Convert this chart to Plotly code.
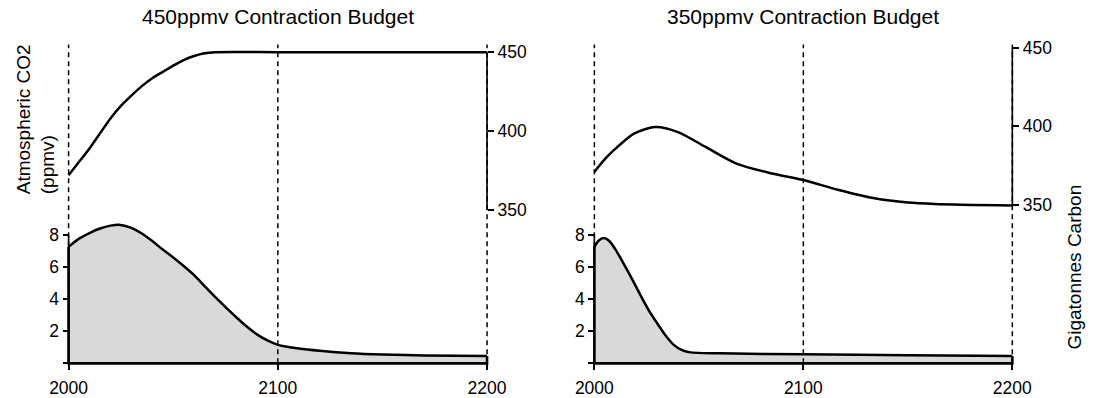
import plotly.graph_objects as go

# ---------------- data ----------------
years_co2_450 = [2000, 2005, 2010, 2015, 2020, 2025, 2030, 2035, 2040, 2045, 2050, 2055, 2060, 2065, 2070, 2100, 2150, 2200]
co2_450 = [372, 380.5, 389, 398.5, 408, 416, 422.5, 428.5, 433.5, 437.5, 441.5, 445, 447.6, 449.3, 450, 450, 450, 450]

years_em_450 = [2000, 2005, 2010, 2015, 2020, 2024, 2030, 2035, 2040, 2045, 2050, 2055, 2060, 2065, 2070, 2075, 2080, 2085, 2090, 2095, 2100, 2110, 2120, 2135, 2150, 2170, 2200]
em_450 = [7.24, 7.75, 8.1, 8.38, 8.56, 8.62, 8.42, 8.07, 7.6, 7.07, 6.58, 6.05, 5.48, 4.8, 4.13, 3.5, 2.88, 2.3, 1.8, 1.42, 1.15, 0.92, 0.78, 0.63, 0.55, 0.49, 0.45]

years_co2_350 = [2000, 2006, 2012, 2019, 2029, 2040, 2053, 2068, 2085, 2100, 2117, 2134, 2150, 2163, 2200]
co2_350 = [371, 380.5, 388, 395.3, 399.5, 396.3, 387, 376.3, 370, 365.8, 359.5, 354.2, 351.5, 350.6, 349.6]

years_em_350 = [2000, 2002, 2004.5, 2007, 2010, 2014, 2018, 2022, 2026, 2030, 2034, 2038, 2042, 2046, 2060, 2100, 2150, 2200]
em_350 = [7.24, 7.62, 7.79, 7.62, 7.1, 6.2, 5.25, 4.25, 3.3, 2.5, 1.75, 1.15, 0.82, 0.68, 0.62, 0.56, 0.5, 0.46]

x_ticks = [2000, 2100, 2200]
em_ticks = [0, 2, 4, 6, 8]
em_ticktext = ["", "2", "4", "6", "8"]
co2_ticks = [350, 400, 450]

titles = ["450ppmv Contraction Budget", "350ppmv Contraction Budget"]
left_label = "Atmospheric CO2<br>(ppmv)"
right_label = "Gigatonnes Carbon"

# ---------------- layout geometry (pixels) ----------------
W, H = 1099, 398
FONT = "Liberation Sans, Arial, Helvetica, sans-serif"
TICK_FS = 17.5
TITLE_FS = 21
LABEL_FS = 19
PLOT_TOP, PLOT_BOT = 38, 372
BASE_PX = 365           # pixel row of emissions 0
EM_PX = 16.25           # px per GtC
panels = [
    dict(x0=57, x1=486, co2_450_px=50.7, co2_350_px=210),
    dict(x0=596, x1=1024.5, co2_450_px=46, co2_350_px=205),
]
PAD = 6

def fx(px):
    return px / W

def fy(py):
    return (H - py) / H

fig = go.Figure()
layout = dict(
    width=W, height=H, margin=dict(l=0, r=0, t=0, b=0),
    paper_bgcolor="white", plot_bgcolor="white", showlegend=False,
    font=dict(family=FONT, size=TICK_FS, color="black"),
)
shapes = []
annotations = []
ydom = [fy(PLOT_BOT), fy(PLOT_TOP)]
em_range = [(BASE_PX - PLOT_BOT) / EM_PX, (BASE_PX - PLOT_TOP) / EM_PX]

series = [(years_co2_450, co2_450, years_em_450, em_450),
          (years_co2_350, co2_350, years_em_350, em_350)]

for i, p in enumerate(panels):
    xa = "x" if i == 0 else "x2"
    ya_em = "y" if i == 0 else "y3"
    ya_co2 = "y2" if i == 0 else "y4"
    xk = "xaxis" if i == 0 else "xaxis2"
    yk_em = "yaxis" if i == 0 else "yaxis3"
    yk_co2 = "yaxis2" if i == 0 else "yaxis4"

    xmin, xmax = min(x_ticks), max(x_ticks)
    ppy = (p["x1"] - p["x0"]) / (xmax - xmin)
    xr = [xmin - PAD / ppy, xmax + PAD / ppy]
    ppc = (p["co2_350_px"] - p["co2_450_px"]) / (max(co2_ticks) - min(co2_ticks))
    co2_range = [min(co2_ticks) - (PLOT_BOT - p["co2_350_px"]) / ppc,
                 max(co2_ticks) + (p["co2_450_px"] - PLOT_TOP) / ppc]

    layout[xk] = dict(domain=[fx(p["x0"] - PAD), fx(p["x1"] + PAD)], range=xr,
                      anchor="free", position=fy(BASE_PX), showgrid=False, zeroline=False,
                      showline=False, ticks="outside", ticklen=6, tickwidth=1.5,
                      tickcolor="black", tickvals=x_ticks, ticktext=[str(v) for v in x_ticks],
                      tickfont=dict(size=TICK_FS), ticklabelstandoff=3)
    layout[yk_em] = dict(domain=ydom, range=em_range, anchor="free", position=fx(p["x0"]),
                         side="left", showgrid=False, zeroline=False, showline=False,
                         ticks="outside", ticklen=6, tickwidth=1.5, tickcolor="black",
                         tickvals=em_ticks, ticktext=em_ticktext, tickfont=dict(size=TICK_FS))
    layout[yk_co2] = dict(domain=ydom, range=co2_range, anchor="free", position=fx(p["x1"]),
                          overlaying=ya_em, side="right", showgrid=False, zeroline=False,
                          showline=False, ticks="outside", ticklen=6, tickwidth=1.5,
                          tickcolor="black", tickvals=co2_ticks, tickfont=dict(size=TICK_FS))

    yc, vc, ye, ve = series[i]
    # emissions area
    fig.add_trace(go.Scatter(x=ye, y=ve, xaxis=xa, yaxis=ya_em, mode="lines",
                             line=dict(color="black", width=2.5, shape="spline", smoothing=0.8),
                             fill="tozeroy", fillcolor="#d9d9d9", hoverinfo="skip"))
    # polygon border sides and bottom
    fig.add_trace(go.Scatter(x=[ye[0], ye[0], ye[-1], ye[-1]], y=[ve[0], 0, 0, ve[-1]],
                             xaxis=xa, yaxis=ya_em, mode="lines",
                             line=dict(color="black", width=2.6), hoverinfo="skip"))
    # CO2 line
    fig.add_trace(go.Scatter(x=yc, y=vc, xaxis=xa, yaxis=ya_co2, mode="lines",
                             line=dict(color="black", width=2.5, shape="spline", smoothing=0.8),
                             hoverinfo="skip"))

    # dashed verticals
    for xv in x_ticks:
        shapes.append(dict(type="line", xref=xa, yref=ya_em, x0=xv, x1=xv, y0=0,
                           y1=(BASE_PX - 43) / EM_PX, layer="above",
                           line=dict(color="black", width=1.5, dash="5px,4px")))
    # axis lines (R style, first to last tick)
    shapes.append(dict(type="line", xref=xa, yref=ya_em, x0=xmin, x1=xmin,
                       y0=min(em_ticks), y1=max(em_ticks), layer="above",
                       line=dict(color="black", width=1.6)))
    shapes.append(dict(type="line", xref=xa, yref=ya_co2, x0=xmax, x1=xmax,
                       y0=min(co2_ticks), y1=max(co2_ticks), layer="above",
                       line=dict(color="black", width=1.6)))
    annotations.append(dict(text=titles[i], xref=xa, x=(xmin + xmax) / 2, yref="paper",
                            y=fy(14.5), showarrow=False, xanchor="center", yanchor="middle",
                            font=dict(size=TITLE_FS)))

annotations.append(dict(text=left_label, xref="paper", yref="paper", x=fx(23), y=fy(118),
                        textangle=-90, align="left", showarrow=False,
                        xanchor="center", yanchor="middle", font=dict(size=LABEL_FS)))
annotations.append(dict(text=right_label, xref="paper", yref="paper", x=fx(1088), y=fy(268),
                        textangle=-90, showarrow=False, xanchor="center", yanchor="middle",
                        font=dict(size=LABEL_FS)))

layout["shapes"] = shapes
layout["annotations"] = annotations
fig.update_layout(**layout)
fig.write_html("out.html")
